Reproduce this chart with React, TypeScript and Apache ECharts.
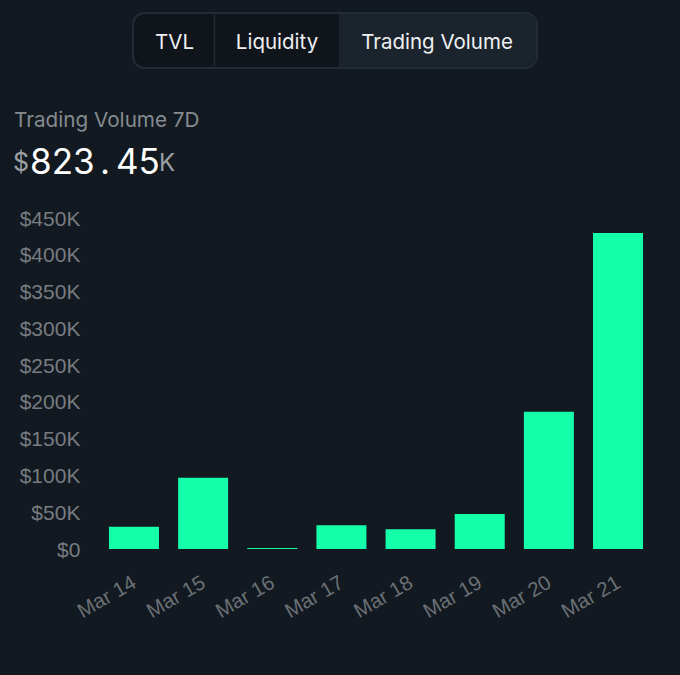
import React, { useEffect, useRef } from "react";
import * as echarts from "echarts";

const categories = ["Mar 14", "Mar 15", "Mar 16", "Mar 17", "Mar 18", "Mar 19", "Mar 20", "Mar 21"];
const volumes = [30300, 96900, 1200, 32200, 26800, 47600, 186700, 429600];
const tabs = ["TVL", "Liquidity", "Trading Volume"];
const headerLabel = "Trading Volume 7D";
const totalInt = "823";
const totalDec = "45";

export default function App() {
  const ref = useRef<HTMLDivElement>(null);
  useEffect(() => {
    document.body.style.margin = "0";
    const chart = echarts.init(ref.current!, undefined, { renderer: "svg" });
    const bg = "#121920";
    const font = "Liberation Sans";
    const tabText = { fill: "#eef0f2", fontSize: 20.5, fontFamily: "Inter", align: "center", verticalAlign: "middle" };
    chart.setOption({
      animation: false,
      backgroundColor: bg,
      grid: { left: 99.4, right: 27.4, top: 218, bottom: 126 },
      xAxis: {
        type: "category",
        data: categories,
        axisLine: { show: false },
        axisTick: { show: false },
        axisLabel: {
          rotate: 30,
          margin: 31,
          color: "#6a7075",
          fontSize: 20.5,
          fontFamily: font,
          interval: 0,
        },
      },
      yAxis: {
        type: "value",
        min: 0,
        max: 450000,
        interval: 50000,
        splitLine: { show: false },
        axisLine: { show: false },
        axisTick: { show: false },
        axisLabel: {
          margin: 19,
          color: "#777c81",
          fontSize: 21,
          fontFamily: font,
          formatter: (v: number) => (v === 0 ? "$0" : "$" + v / 1000 + "K"),
        },
      },
      series: [
        {
          type: "bar",
          data: volumes,
          barWidth: 50,
          itemStyle: { color: "#15ffab" },
        },
      ],
      graphic: [
        {
          type: "rect",
          shape: { x: 133, y: 13, width: 404, height: 55, r: 12 },
          style: { fill: "#0f151b", stroke: "#222c34", lineWidth: 2 },
        },
        {
          type: "rect",
          shape: { x: 339, y: 14, width: 197, height: 53, r: [0, 11, 11, 0] },
          style: { fill: "#1b242c" },
        },
        {
          type: "line",
          shape: { x1: 214.5, y1: 15, x2: 214.5, y2: 66 },
          style: { stroke: "#222c34", lineWidth: 1.5 },
        },
        { type: "text", x: 174.5, y: 41, style: { text: tabs[0], ...tabText } },
        { type: "text", x: 277, y: 41, style: { text: tabs[1], ...tabText } },
        { type: "text", x: 437, y: 41, style: { text: tabs[2], ...tabText } },
        {
          type: "text",
          x: 14,
          y: 119,
          style: { text: headerLabel, fill: "#858b90", fontSize: 20.7, fontFamily: "Inter", verticalAlign: "middle" },
        },
        {
          type: "text",
          x: 13,
          y: 174,
          style: { text: "$", fill: "#9aa0a5", fontSize: 25, fontFamily: "Inter", verticalAlign: "bottom" },
        },
        {
          type: "text",
          x: 30,
          y: 178,
          style: { text: totalInt, fill: "#ffffff", fontSize: 35, fontFamily: "Inter", verticalAlign: "bottom" },
        },
        {
          type: "text",
          x: 105,
          y: 178,
          style: { text: ".", fill: "#ffffff", fontSize: 35, fontFamily: "Inter", align: "center", verticalAlign: "bottom" },
        },
        {
          type: "text",
          x: 116,
          y: 178,
          style: { text: totalDec, fill: "#ffffff", fontSize: 35, fontFamily: "Inter", verticalAlign: "bottom" },
        },
        {
          type: "text",
          x: 159,
          y: 174,
          style: { text: "K", fill: "#9aa0a5", fontSize: 24, fontFamily: "Inter", verticalAlign: "bottom" },
        },
      ],
    });
    return () => chart.dispose();
  }, []);
  return <div ref={ref} style={{ position: "absolute", left: 0, top: 0, width: 680, height: 675 }} />;
}
